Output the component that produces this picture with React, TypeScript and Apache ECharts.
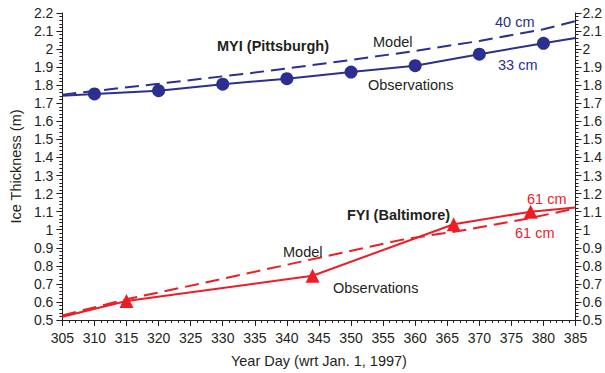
import React, { useEffect, useRef } from "react";
import * as echarts from "echarts";

const BLUE = "#2b2f8f";
const RED = "#ee1c25";
const INK = "#231f20";

// MYI (Pittsburgh)
const myiObsDays = [305, 310, 320, 330, 340, 350, 360, 370, 380, 385];
const myiObsVals = [1.742, 1.752, 1.77, 1.806, 1.836, 1.873, 1.908, 1.972, 2.032, 2.062];
const myiModelDays = [305, 320, 335, 350, 360, 370, 380, 385];
const myiModelVals = [1.748, 1.808, 1.87, 1.94, 1.99, 2.045, 2.11, 2.155];

// FYI (Baltimore)
const fyiObsDays = [305, 315, 344, 366, 378, 385];
const fyiObsVals = [0.518, 0.605, 0.745, 1.03, 1.1, 1.123];
const fyiModelDays = [305, 315, 327, 347, 358, 368, 378, 385];
const fyiModelVals = [0.525, 0.615, 0.705, 0.86, 0.945, 1.0, 1.065, 1.118];

const xMin = 305;
const xMax = 385;
const yMin = 0.5;
const yMax = 2.2;

function obsData(days: number[], vals: number[]) {
  return days.map((d, i) => {
    const isEnd = i === 0 || i === days.length - 1;
    return isEnd ? { value: [d, vals[i]], symbol: "none" } : { value: [d, vals[i]] };
  });
}
function pairs(days: number[], vals: number[]) {
  return days.map((d, i) => [d, vals[i]]);
}

const annotations = [
  { text: "MYI (Pittsburgh)", x: 217, y: 46, color: INK, bold: true },
  { text: "Model", x: 373, y: 42, color: INK },
  { text: "40 cm", x: 495, y: 22, color: BLUE },
  { text: "33 cm", x: 498, y: 65, color: BLUE },
  { text: "Observations", x: 368, y: 85, color: INK },
  { text: "FYI (Baltimore)", x: 347, y: 215, color: INK, bold: true },
  { text: "61 cm", x: 527, y: 199, color: RED },
  { text: "61 cm", x: 515, y: 233, color: RED },
  { text: "Model", x: 283, y: 252, color: INK },
  { text: "Observations", x: 333, y: 288, color: INK },
];

export default function App() {
  const ref = useRef<HTMLDivElement>(null);
  useEffect(() => {
    if (!ref.current) return;
    const chart = echarts.init(ref.current, null, { renderer: "svg" });
    const font = "'Liberation Sans', Arial, sans-serif";
    const yAxisBase = {
      type: "value",
      min: yMin,
      max: yMax,
      interval: 0.1,
      axisLine: { show: true, lineStyle: { color: INK, width: 1 } },
      axisTick: { show: true, inside: false, length: 6, lineStyle: { color: INK } },
      minorTick: { show: true, splitNumber: 5, length: 3, lineStyle: { color: INK } },
      splitLine: { show: false },
      minorSplitLine: { show: false },
    };
    chart.setOption({
      animation: false,
      backgroundColor: "#ffffff",
      textStyle: { fontFamily: font },
      grid: { left: 59, right: 29, top: 13, bottom: 49, containLabel: false },
      xAxis: {
        type: "value",
        min: xMin,
        max: xMax,
        interval: 5,
        axisLine: { show: true, onZero: false, lineStyle: { color: INK, width: 1 } },
        axisTick: { show: true, length: 6, lineStyle: { color: INK } },
        minorTick: { show: true, splitNumber: 5, length: 3, lineStyle: { color: INK } },
        splitLine: { show: false },
        axisLabel: { color: INK, fontSize: 14, fontFamily: font, margin: 11 },
        name: "Year Day (wrt Jan. 1, 1997)",
        nameLocation: "middle",
        nameGap: 33,
        nameTextStyle: { color: INK, fontSize: 14.5, fontFamily: font },
      },
      yAxis: [
        {
          ...yAxisBase,
          position: "left",
          axisLabel: { color: INK, fontSize: 14, fontFamily: font, margin: 9 },
          name: "Ice Thickness (m)",
          nameLocation: "middle",
          nameRotate: 90,
          nameGap: 32,
          nameTextStyle: { color: INK, fontSize: 14.5, fontFamily: font },
        },
        {
          ...yAxisBase,
          position: "right",
          axisLabel: { color: INK, fontSize: 14, fontFamily: font, margin: 7 },
        },
      ],
      series: [
        {
          type: "line",
          name: "MYI Observations",
          data: obsData(myiObsDays, myiObsVals),
          symbol: "circle",
          symbolSize: 13,
          lineStyle: { color: BLUE, width: 2 },
          itemStyle: { color: BLUE },
        },
        {
          type: "line",
          name: "MYI Model",
          data: pairs(myiModelDays, myiModelVals),
          showSymbol: false,
          symbol: "none",
          lineStyle: { color: BLUE, width: 2, type: [14, 7] },
        },
        {
          type: "line",
          name: "FYI Observations",
          data: obsData(fyiObsDays, fyiObsVals),
          symbol: "triangle",
          symbolSize: 14,
          lineStyle: { color: RED, width: 2 },
          itemStyle: { color: RED },
        },
        {
          type: "line",
          name: "FYI Model",
          data: pairs(fyiModelDays, fyiModelVals),
          showSymbol: false,
          symbol: "none",
          lineStyle: { color: RED, width: 2, type: [14, 7] },
        },
      ],
      graphic: annotations.map((a) => ({
        type: "text",
        x: a.x,
        y: a.y,
        silent: true,
        z: 100,
        style: {
          text: a.text,
          fill: a.color,
          fontSize: 14.5,
          fontWeight: a.bold ? "bold" : "normal",
          fontFamily: font,
          textAlign: "left",
          textVerticalAlign: "middle",
        },
      })),
    });
    return () => chart.dispose();
  }, []);
  return (
    <div
      ref={ref}
      style={{ position: "fixed", left: 0, top: 0, width: 605, height: 373, background: "#fff" }}
    />
  );
}
